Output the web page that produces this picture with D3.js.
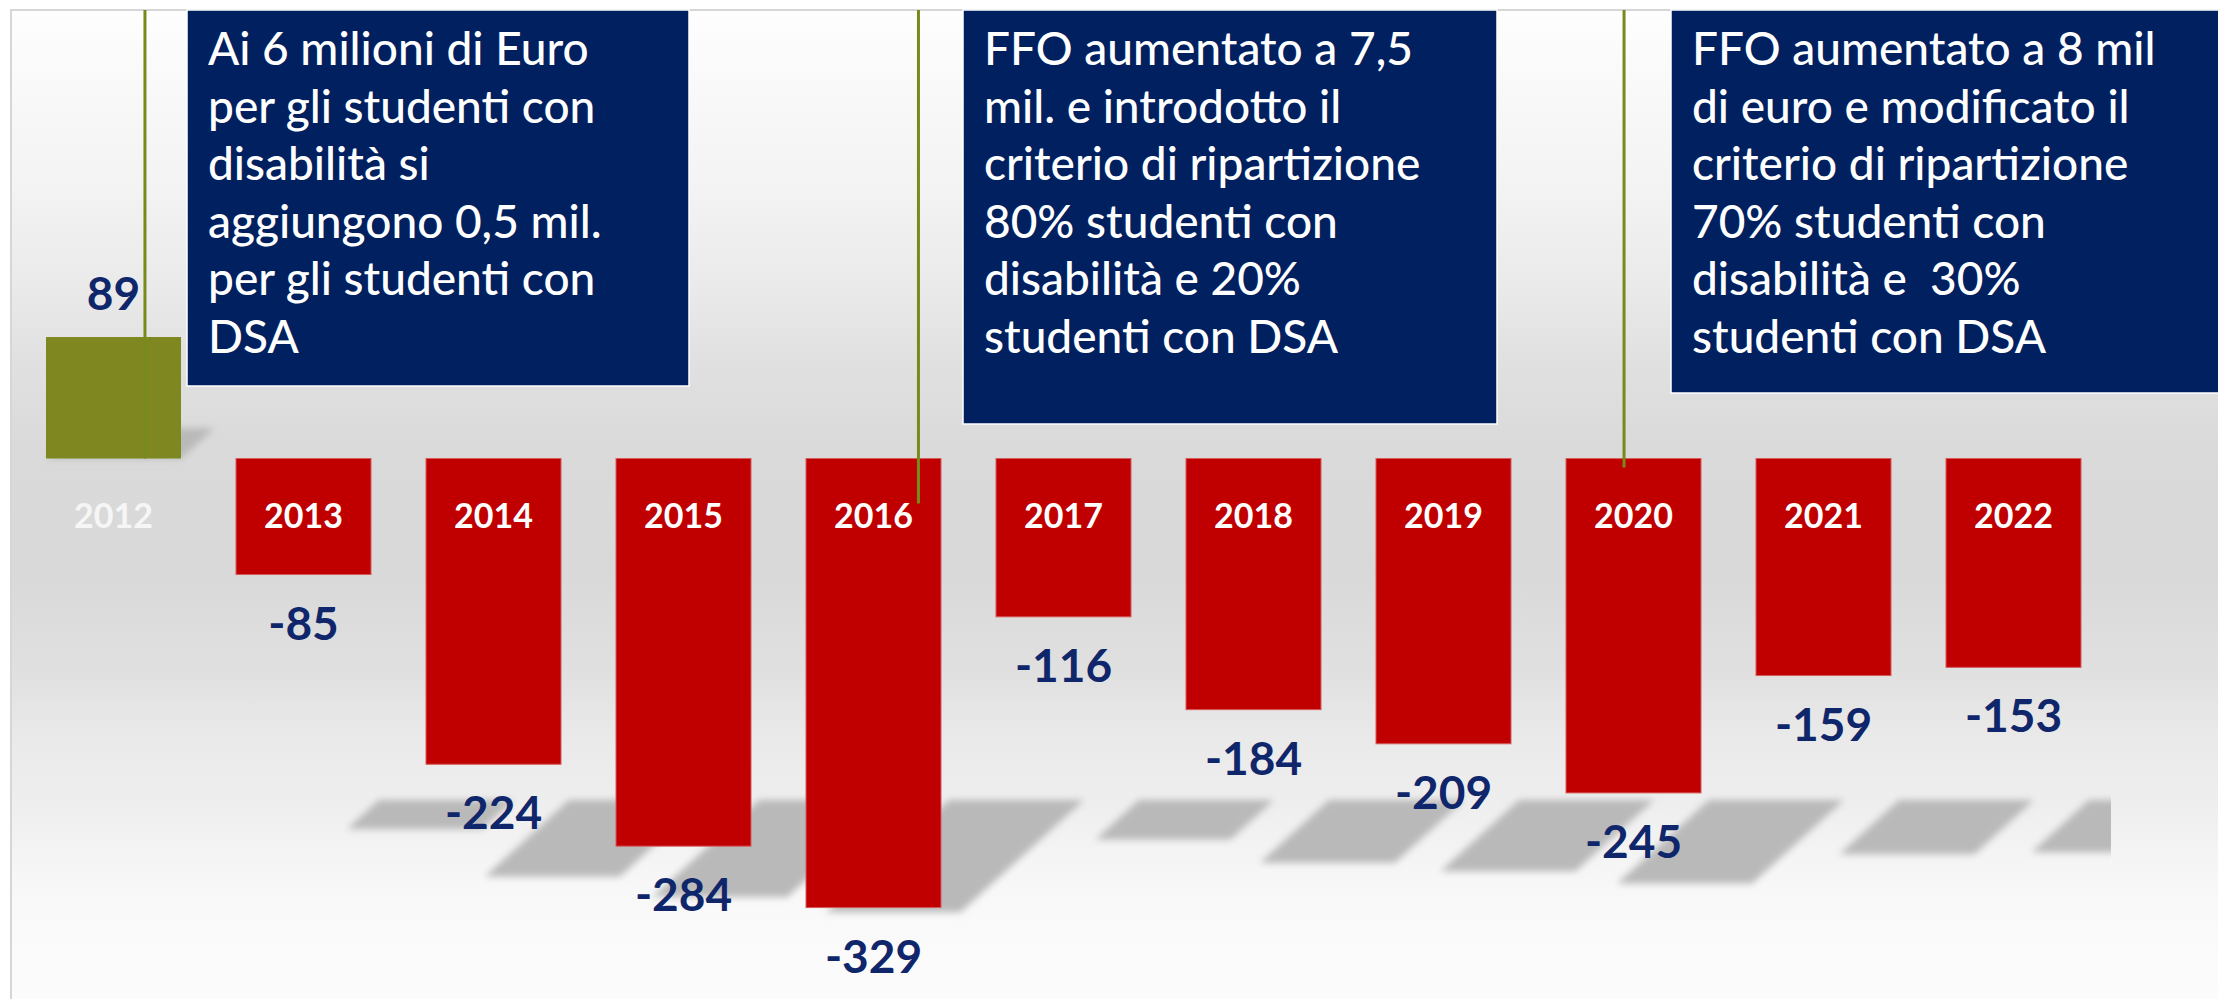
<!DOCTYPE html>
<html>
<head>
<meta charset="utf-8">
<script src="https://cdn.jsdelivr.net/npm/d3@7"></script>
<style>
	body { margin: 0; background: #fff; }
	svg { display: block; }
</style>
</head>
<body>
<div id="chart"></div>
<script>
// data ----------------------------------------
const YEARS = ['2012', '2013', '2014', '2015', '2016', '2017', '2018', '2019', '2020', '2021', '2022']
const VALUES = [89, -85, -224, -284, -329, -116, -184, -209, -245, -159, -153]

const NOTE_YEARS = ['2012', '2016', '2020']
const NOTE_TEXT = [
	['Ai 6 milioni di Euro', 'per gli studenti con', 'disabilità si', 'aggiungono 0,5 mil.', 'per gli studenti con', 'DSA'],
	['FFO aumentato a 7,5', 'mil. e introdotto il', 'criterio di ripartizione', '80% studenti con', 'disabilità e 20%', 'studenti con DSA'],
	['FFO aumentato a 8 mil', 'di euro e modificato il', 'criterio di ripartizione', '70% studenti con', 'disabilità e  30%', 'studenti con DSA'],
]

// layout --------------------------------------
const WIDTH = 2218
const HEIGHT = 999
const FRAME = { left: 11, top: 10, right: 2111 }
const PX_PER_UNIT = 1.365
const ZERO_Y = 458.5

// callout boxes: where the pointer sits in its band, box extent, how far the pointer goes below zero
const NOTE_LAYOUT = [
	{ at: 0.733, left: 187, right: 689, bottom: 386, drop: 0 },
	{ at: 0.833, left: 963, right: 1497, bottom: 424, drop: 45 },
	{ at: 0.43, left: 1671, right: 2230, bottom: 393, drop: 9 },
]
const NOTE_FONT = 46
const NOTE_LINE = 57.5

const SHADOW_SCALE = 0.25 // shadow height / bar height
const SHADOW_SLANT = 1.1 // horizontal shift per px of shadow height
const SHADOW_SHIFT = 143 // shadows of negative bars start right of the bar
const FLOOR_Y = 800

const RED = '#c00000'
const GREEN = '#7f8820'
const NAVY = '#002060'
const LABEL = '#10266b'

const svg = d3.select('#chart').append('svg').attr('width', WIDTH).attr('height', HEIGHT)
const defs = svg.append('defs')

const grad = defs.append('linearGradient').attr('id', 'bg').attr('x1', 0).attr('x2', 0).attr('y1', 0).attr('y2', 1)
const STOPS = [
	[0, '#fefefe'], [0.06, '#fafafa'], [0.18, '#f3f3f3'], [0.28, '#eaeaea'], [0.35, '#e1e1e1'],
	[0.44, '#dadada'], [0.57, '#d9d9d9'], [0.67, '#e0e0e0'], [0.73, '#e9e9e9'], [0.8, '#eeeeee'],
	[0.89, '#f8f8f8'], [1, '#fcfcfc'],
]
grad.selectAll('stop').data(STOPS).join('stop')
	.attr('offset', d => d[0])
	.attr('stop-color', d => d[1])

defs.append('filter').attr('id', 'blur')
	.attr('x', '-30%').attr('y', '-60%').attr('width', '160%').attr('height', '220%')
	.append('feGaussianBlur').attr('stdDeviation', 3.5)

defs.append('clipPath').attr('id', 'plot-clip')
	.append('rect')
	.attr('x', FRAME.left).attr('y', FRAME.top)
	.attr('width', FRAME.right - FRAME.left).attr('height', HEIGHT - FRAME.top)

// background + frame
svg.append('rect')
	.attr('x', FRAME.left).attr('y', FRAME.top)
	.attr('width', WIDTH - FRAME.left).attr('height', HEIGHT - FRAME.top)
	.attr('fill', 'url(#bg)')
svg.append('path')
	.attr('d', `M${FRAME.left},${HEIGHT}V${FRAME.top}H${WIDTH}`)
	.attr('fill', 'none')
	.attr('stroke', '#d6d6d6')
	.attr('stroke-width', 2)

// scales --------------------------------------
const x = d3.scaleBand()
	.domain(YEARS)
	.range([18.5, 2108.5])
	.paddingInner(55 / 190)
	.paddingOuter(55 / 380)

const y = d3.scaleLinear()
	.domain([-350, 100])
	.range([ZERO_Y + 350 * PX_PER_UNIT, ZERO_Y - 100 * PX_PER_UNIT])

const bars = YEARS.map((year, i) => ({ year, value: VALUES[i] }))

// shadows -------------------------------------
function shadowPath(d) {
	const bx = x(d.year)
	const w = x.bandwidth()
	const sh = Math.abs(y(d.value) - y(0)) * SHADOW_SCALE
	const dx = sh * SHADOW_SLANT
	if (d.value >= 0) {
		const yb = y(0)
		return `M${bx},${yb}L${bx + w},${yb}L${bx + w + dx},${yb - sh}L${bx + dx},${yb - sh}Z`
	}
	const tx = bx + SHADOW_SHIFT
	return `M${tx},${FLOOR_Y}L${tx + w},${FLOOR_Y}L${tx + w - dx},${FLOOR_Y + sh}L${tx - dx},${FLOOR_Y + sh}Z`
}

svg.append('g')
	.attr('id', 'shadows')
	.attr('clip-path', 'url(#plot-clip)')
	.selectAll('path')
	.data(bars)
	.join('path')
	.attr('d', shadowPath)
	.attr('fill', '#b9b9b9')
	.attr('filter', 'url(#blur)')

// bars ----------------------------------------
svg.append('g')
	.attr('id', 'bars')
	.selectAll('rect')
	.data(bars)
	.join('rect')
	.attr('x', d => x(d.year))
	.attr('width', x.bandwidth())
	.attr('y', d => y(Math.max(0, d.value)))
	.attr('height', d => Math.abs(y(d.value) - y(0)))
	.attr('fill', d => (d.value >= 0 ? GREEN : RED))
	.attr('stroke', d => (d.value >= 0 ? 'none' : '#d65c5c'))
	.attr('stroke-width', 1)

// year labels
svg.append('g')
	.attr('id', 'year-labels')
	.selectAll('text')
	.data(bars)
	.join('text')
	.attr('x', d => x(d.year) + x.bandwidth() / 2)
	.attr('y', y(0) + 69)
	.attr('text-anchor', 'middle')
	.attr('font-family', 'Lato, "Open Sans", sans-serif')
	.attr('font-weight', 700)
	.attr('font-size', 34)
	.attr('fill', d => (d.value >= 0 ? '#f6f6f6' : '#fff'))
	.text(d => d.year)

// value labels
svg.append('g')
	.attr('id', 'value-labels')
	.selectAll('text')
	.data(bars)
	.join('text')
	.attr('x', d => x(d.year) + x.bandwidth() / 2)
	.attr('y', d => (d.value >= 0 ? y(d.value) - 27 : y(d.value) + 65))
	.attr('text-anchor', 'middle')
	.attr('font-family', 'Lato, "Open Sans", sans-serif')
	.attr('font-weight', 700)
	.attr('font-size', 46)
	.attr('fill', LABEL)
	.text(d => String(d.value))

// callouts ------------------------------------
const notes = NOTE_YEARS.map((year, i) => ({ year, lines: NOTE_TEXT[i], ...NOTE_LAYOUT[i] }))

const noteG = svg.append('g').attr('id', 'notes')

noteG.selectAll('line')
	.data(notes)
	.join('line')
	.attr('x1', d => x(d.year) + x.bandwidth() * d.at)
	.attr('x2', d => x(d.year) + x.bandwidth() * d.at)
	.attr('y1', FRAME.top)
	.attr('y2', d => y(0) + d.drop)
	.attr('stroke', '#788a1c')
	.attr('stroke-width', 3)

noteG.selectAll('rect')
	.data(notes)
	.join('rect')
	.attr('x', d => d.left)
	.attr('y', FRAME.top)
	.attr('width', d => d.right - d.left)
	.attr('height', d => d.bottom - FRAME.top)
	.attr('fill', NAVY)
	.attr('stroke', '#fff')
	.attr('stroke-width', 1.5)

noteG.selectAll('text')
	.data(notes)
	.join('text')
	.attr('font-family', 'Lato, "Open Sans", sans-serif')
	.attr('font-weight', 500)
	.attr('font-size', NOTE_FONT)
	.attr('fill', '#fff')
	.attr('xml:space', 'preserve')
	.style('white-space', 'pre')
	.selectAll('tspan')
	.data(d => d.lines.map(line => ({ line, left: d.left })))
	.join('tspan')
	.attr('x', d => d.left + 21)
	.attr('y', (_, i) => 65 + i * NOTE_LINE)
	.text(d => d.line)
</script>
</body>
</html>
